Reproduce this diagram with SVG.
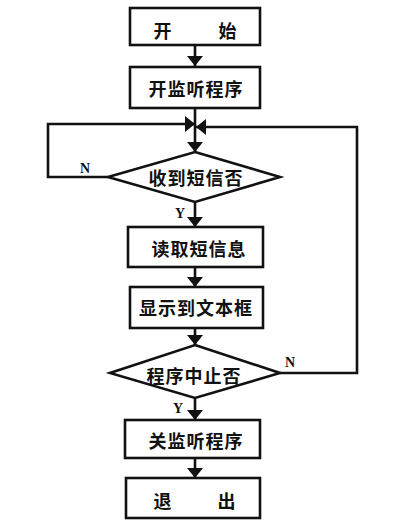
<svg xmlns="http://www.w3.org/2000/svg" width="400" height="524" viewBox="0 0 400 524">
<style>
.box{fill:#fff;stroke:#111;stroke-width:2.6}
.t{font-family:"Noto Sans CJK SC","Noto Sans",sans-serif;font-weight:bold;font-size:18px;fill:#111;text-anchor:middle;dominant-baseline:central;letter-spacing:1px}
.lbl{font-family:"Liberation Serif",serif;font-weight:bold;font-size:14px;fill:#111;text-anchor:middle;dominant-baseline:central}
.c{fill:none;stroke:#111;stroke-width:2.6;marker-end:url(#ah)}
</style>
<defs>
<marker id="ah" markerUnits="userSpaceOnUse" viewBox="0 0 10 16" markerWidth="10" markerHeight="17" refX="10" refY="8" orient="auto">
<path d="M0,0 L10,8 L0,16 Z" fill="#111"/>
</marker>
</defs>
<rect width="400" height="524" fill="#fff"/>
<g id="connectors">
<path class="c" d="M195,45 V66"/>
<path class="c" d="M195,108 V152"/>
<path class="c" d="M108,177 H48 V124 H195"/>
<path class="c" d="M280,373 H357 V127 H196"/>
<path class="c" d="M195,202 V227"/>
<path class="c" d="M195,267 V287"/>
<path class="c" d="M195,328 V345"/>
<path class="c" d="M195,398 V420"/>
<path class="c" d="M195,458 V478"/>
</g>
<g id="start"><rect class="box" x="130" y="8" width="130" height="37"/><text class="t" y="30"><tspan x="163">开</tspan><tspan x="228">始</tspan></text></g>
<g id="openListen"><rect class="box" x="130" y="67" width="130" height="41"/><text class="t" x="196" y="88">开监听程序</text></g>
<g id="received"><polygon class="box" points="195,152 280,177 195,202 108,177"/><text class="t" x="196" y="177">收到短信否</text></g>
<g id="read"><rect class="box" x="128" y="227" width="135" height="40"/><text class="t" x="199" y="248">读取短信息</text></g>
<g id="display"><rect class="box" x="130" y="287" width="133" height="41"/><text class="t" x="196" y="307">显示到文本框</text></g>
<g id="stopped"><polygon class="box" points="195,345 280,373 195,398 110,373"/><text class="t" x="194" y="375">程序中止否</text></g>
<g id="closeListen"><rect class="box" x="125" y="420" width="135" height="38"/><text class="t" x="196" y="440">关监听程序</text></g>
<g id="exit"><rect class="box" x="126" y="478" width="134" height="40"/><text class="t" y="500"><tspan x="163">退</tspan><tspan x="227">出</tspan></text></g>
<g id="labels">
<text class="lbl" x="85" y="168">N</text>
<text class="lbl" x="180" y="213">Y</text>
<text class="lbl" x="290" y="362">N</text>
<text class="lbl" x="178" y="408">Y</text>
</g>
</svg>
